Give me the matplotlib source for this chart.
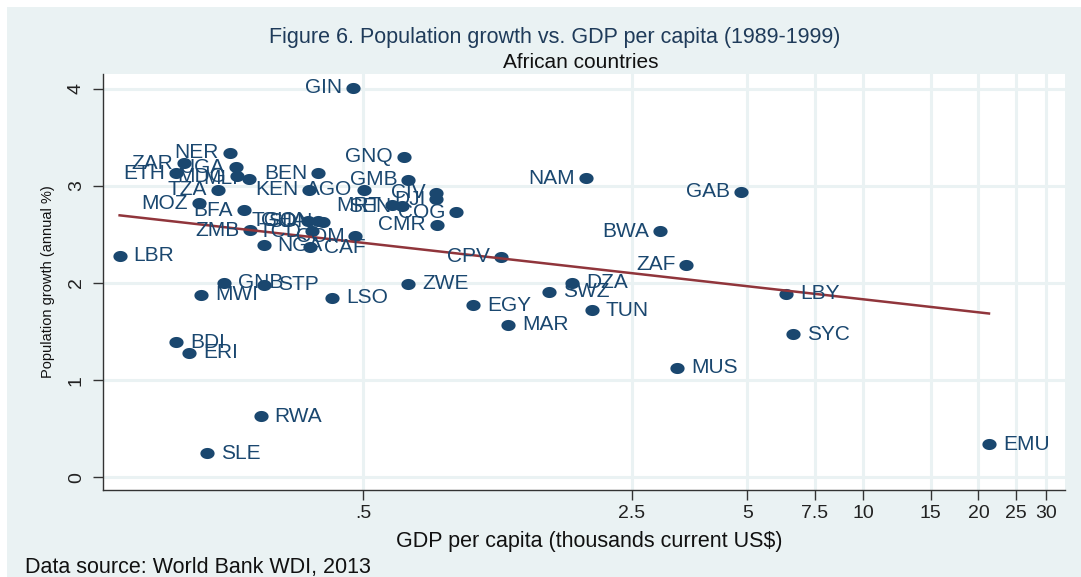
import numpy as np
import matplotlib
matplotlib.use("Agg")
import matplotlib.pyplot as plt
from matplotlib.patches import Rectangle
from matplotlib.path import Path

plt.rcParams['font.family'] = ['Liberation Sans', 'DejaVu Sans']

codes = ["GIN", "NER", "ZAR", "UGA", "ETH", "MDG", "MLI", "TZA", "BEN", "KEN",
         "AGO", "GNQ", "GMB", "CIV", "DJI", "MRT", "SEN", "COG", "CMR", "MOZ",
         "BFA", "TGO", "GHA", "SDN", "ZMB", "TCD", "COM", "NGA", "CAF", "LBR",
         "CPV", "NAM", "GAB", "BWA", "ZAF", "DZA", "SWZ", "TUN", "MAR", "EGY",
         "ZWE", "LSO", "GNB", "STP", "MWI", "LBY", "SYC", "MUS", "BDI", "ERI",
         "RWA", "SLE", "EMU"]
gdp = [0.471, 0.225, 0.171, 0.233, 0.163, 0.235, 0.252, 0.209, 0.382, 0.362,
       0.501, 0.639, 0.655, 0.775, 0.775, 0.595, 0.632, 0.873, 0.779, 0.187,
       0.245, 0.359, 0.380, 0.393, 0.254, 0.368, 0.477, 0.275, 0.364, 0.116,
       1.14, 1.90, 4.82, 2.97, 3.47, 1.75, 1.52, 1.97, 1.19, 0.967,
       0.655, 0.415, 0.217, 0.276, 0.189, 6.32, 6.59, 3.29, 0.163, 0.176,
       0.270, 0.196, 21.3]
growth = [4.01, 3.34, 3.23, 3.19, 3.13, 3.10, 3.07, 2.96, 3.13, 2.96,
          2.96, 3.30, 3.06, 2.93, 2.86, 2.80, 2.79, 2.73, 2.60, 2.82,
          2.75, 2.64, 2.64, 2.63, 2.54, 2.53, 2.48, 2.39, 2.37, 2.28,
          2.27, 3.08, 2.94, 2.53, 2.19, 2.00, 1.91, 1.72, 1.57, 1.77,
          1.99, 1.85, 2.00, 1.98, 1.88, 1.89, 1.47, 1.13, 1.39, 1.28,
          0.63, 0.25, 0.34]
side = ["L"] * 27 + ["R", "R", "R", "L", "L", "L", "L", "L"] + ["R"] * 18

xticks = [0.5, 2.5, 5, 7.5, 10, 15, 20, 25, 30]
xticklabels = [".5", "2.5", "5", "7.5", "10", "15", "20", "25", "30"]
yticks = [0, 1, 2, 3, 4]

W, H = 1081, 577
fig = plt.figure(figsize=(W / 100, H / 100), dpi=100, facecolor='white')
bg = '#eaf2f3'
fig.patches.append(Rectangle((7 / W, 0), 1 - 7 / W, 1 - 7 / H, transform=fig.transFigure,
                             facecolor=bg, edgecolor='none', zorder=-10))

L, R, T, B = 103, 1065, 74, 490
ax = fig.add_axes([L / W, 1 - B / H, (R - L) / W, (B - T) / H])
ax.set_facecolor('white')
ax.set_xscale('log')
ax.set_xlim(0.105, 33.6)
ax.set_ylim(-0.13, 4.15)

for s in ['top', 'right']:
    ax.spines[s].set_visible(False)
for s in ['left', 'bottom']:
    ax.spines[s].set_color('#333333')
    ax.spines[s].set_linewidth(1.0)

ax.set_xticks(xticks)
ax.set_xticklabels(xticklabels)
ax.xaxis.set_minor_locator(matplotlib.ticker.NullLocator())
ax.set_yticks(yticks)
ax.set_yticklabels([str(v) for v in yticks], rotation=90, va='center')
ax.tick_params(axis='both', direction='out', length=7, width=1, color='#333333',
               labelsize=14, labelcolor='#222222')
ax.tick_params(axis='x', pad=4)
ax.tick_params(axis='y', pad=6)

ax.grid(True, color=bg, linewidth=2.2)
ax.set_axisbelow(True)

# slightly wide elliptical marker (the reference is stretched horizontally)
t = np.linspace(0, 2 * np.pi, 41)
ell = Path(np.column_stack([np.cos(t), 0.78 * np.sin(t)]), closed=True)

navy = '#1a476f'
ax.scatter(gdp, growth, s=105, color=navy, marker=ell, zorder=3, linewidths=0)

# linear fit of growth on log(gdp)
lx = np.log10(np.array(gdp))
b, a = np.polyfit(lx, np.array(growth), 1)
xs = np.array([min(gdp), max(gdp)])
ax.plot(xs, a + b * np.log10(xs), color='#90353b', linewidth=1.8, zorder=4)

for c, x, y, sd in zip(codes, gdp, growth, side):
    if sd == "R":
        ax.annotate(c, (x, y), xytext=(10, 0), textcoords='offset points',
                    ha='left', va='center', fontsize=15, color=navy, zorder=5)
    else:
        ax.annotate(c, (x, y), xytext=(-8, 0), textcoords='offset points',
                    ha='right', va='center', fontsize=15, color=navy, zorder=5)

fig.text(555 / W, 1 - 38 / H, "Figure 6. Population growth vs. GDP per capita (1989-1999)",
         ha='center', va='center', fontsize=15.5, color='#1f3b5a')
fig.text(581 / W, 1 - 63 / H, "African countries", ha='center', va='center',
         fontsize=15, color='#111111')
fig.text(589 / W, 1 - 541 / H, "GDP per capita (thousands current US$)", ha='center',
         va='center', fontsize=15.5, color='#111111')
fig.text(48 / W, 1 - 282 / H, "Population growth (annual %)", ha='center', va='center',
         rotation=90, fontsize=10.5, color='#111111')
fig.text(25 / W, 1 - 568 / H, "Data source: World Bank WDI, 2013", ha='left', va='center',
         fontsize=15.5, color='#111111')

fig.savefig("out.png", dpi=100, facecolor=fig.get_facecolor())
